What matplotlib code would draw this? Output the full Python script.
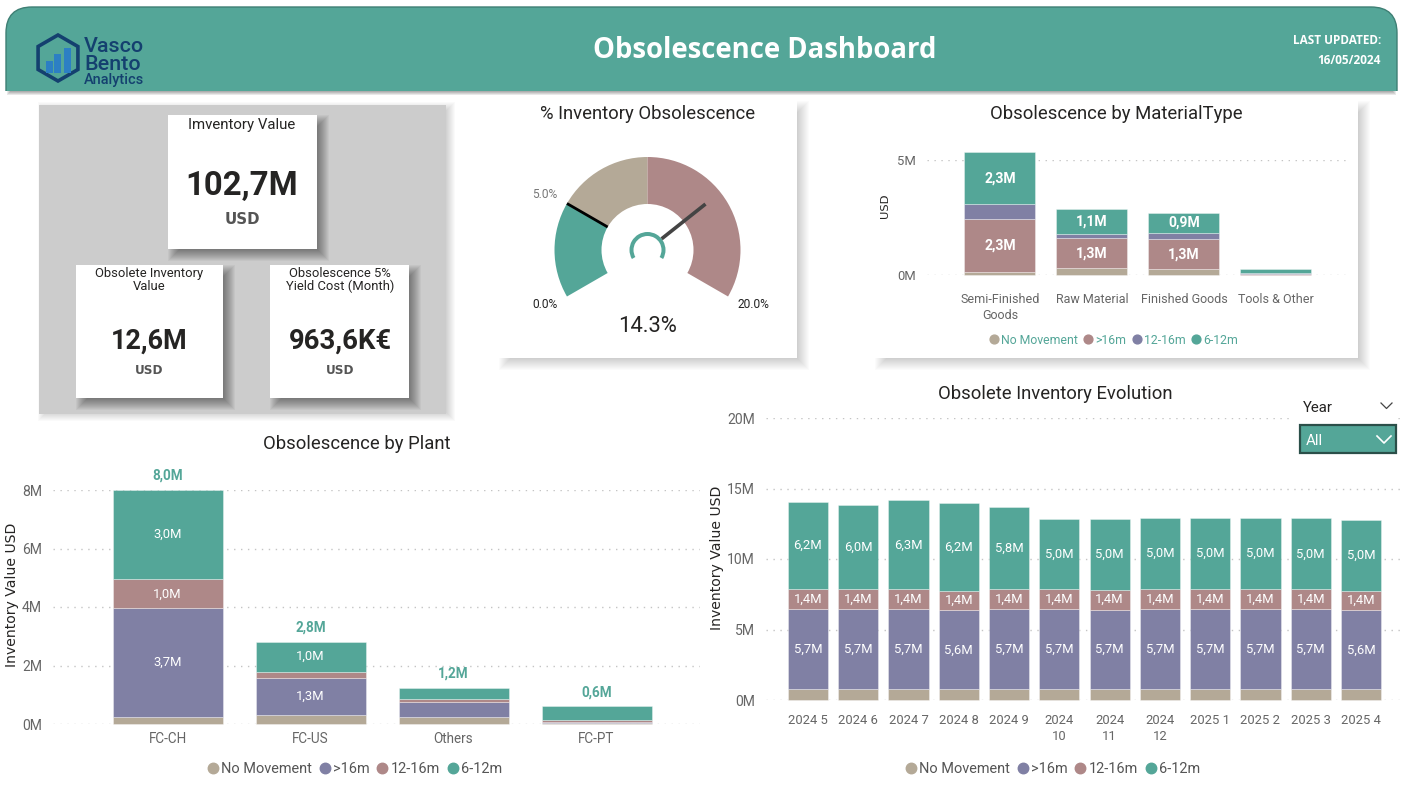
import matplotlib
matplotlib.use("Agg")
import matplotlib.pyplot as plt
from matplotlib.patches import Rectangle, FancyBboxPatch, RegularPolygon, Wedge
from matplotlib.lines import Line2D
import numpy as np

W, H = 1408, 786
NARROW = ['Roboto', 'DejaVu Sans']
plt.rcParams['font.family'] = ['Roboto', 'DejaVu Sans']

TEAL = '#54A698'
BROWN = '#AE8888'
PURPLE = '#8080A4'
TAN = '#B4A997'
TICK = '#666666'
DARK = '#252423'

# stacked bars by plant
plants = ['FC-CH', 'FC-US', 'Others', 'FC-PT']
plant_none = [0.25, 0.30, 0.25, 0.03]
plant_16 = [3.70, 1.28, 0.50, 0.05]
plant_12 = [1.00, 0.20, 0.10, 0.07]
plant_6 = [3.05, 1.04, 0.39, 0.45]

# stacked bars by material type
materials = ['Semi-Finished\nGoods', 'Raw Material', 'Finished Goods', 'Tools & Other']
mat_none = [0.12, 0.30, 0.26, 0.02]
mat_16 = [2.30, 1.30, 1.30, 0.02]
mat_12 = [0.65, 0.20, 0.27, 0.04]
mat_6 = [2.26, 1.06, 0.87, 0.20]

# monthly evolution
months = ['2024 5', '2024 6', '2024 7', '2024 8', '2024 9', '2024\n10', '2024\n11',
          '2024\n12', '2025 1', '2025 2', '2025 3', '2025 4']
evo_none = [0.75, 0.75, 0.75, 0.75, 0.75, 0.75, 0.75, 0.75, 0.75, 0.75, 0.75, 0.75]
evo_16 = [5.70, 5.70, 5.70, 5.60, 5.70, 5.70, 5.66, 5.70, 5.70, 5.70, 5.70, 5.60]
evo_12 = [1.40, 1.40, 1.40, 1.40, 1.42, 1.40, 1.40, 1.42, 1.44, 1.42, 1.40, 1.40]
evo_6 = [6.20, 6.00, 6.30, 6.20, 5.80, 5.00, 5.04, 5.04, 5.04, 5.04, 5.04, 5.00]

# gauge
gauge_min = 0.0
gauge_target = 5.0
gauge_mid = 10.0
gauge_max = 20.0
gauge_value = 14.3

fig = plt.figure(figsize=(W / 100, H / 100), dpi=100, facecolor='white')


def px_axes(x0, y0, x1, y1, zorder=1):
    ax = fig.add_axes([x0 / W, 1 - y1 / H, (x1 - x0) / W, (y1 - y0) / H], zorder=zorder)
    ax.patch.set_alpha(0)
    return ax


def fs(px):
    return px * 0.72


back = px_axes(0, 0, W, H, zorder=0)
back.set_xlim(0, W)
back.set_ylim(H, 0)
back.axis('off')

front = px_axes(0, 0, W, H, zorder=5)
front.set_xlim(0, W)
front.set_ylim(H, 0)
front.axis('off')


def shadow(x0, y0, x1, y1, dx, dy, blur, alpha):
    # soft edge from stacked translucent rectangles
    for k in range(blur, -blur, -1):
        back.add_patch(Rectangle((x0 + dx - k, y0 + dy - k), x1 - x0 + 2 * k, y1 - y0 + 2 * k,
                                 color='black', alpha=alpha, lw=0))


def card(x0, y0, x1, y1, color='white', dx=6, dy=6, blur=6, alpha=0.035):
    shadow(x0, y0, x1, y1, dx, dy, blur, alpha)
    back.add_patch(Rectangle((x0, y0), x1 - x0, y1 - y0, color=color, lw=0))


# header
shadow(10, 60, 1393, 90, 0, 2, 3, 0.09)
head = FancyBboxPatch((6, 7), 1391, 120, boxstyle='round,pad=0,rounding_size=26',
                      fc=TEAL, ec='#3E7F74', lw=1)
back.add_patch(head)
head.set_clip_path(Rectangle((0, 0), W, 90.5, transform=back.transData))
back.text(765, 50, 'Obsolescence Dashboard', color='white', fontsize=fs(27.5), fontweight='bold',
          family='Open Sans', ha='center', va='center')
back.text(1381, 41, 'LAST UPDATED:', color='white', fontsize=fs(11.8), fontweight='bold',
          family='Open Sans', ha='right', va='center')
back.text(1381, 60, '16/05/2024', color='white', fontsize=fs(11.8), fontweight='bold',
          family='Open Sans', ha='right', va='center')

# logo
back.add_patch(RegularPolygon((58, 58), 6, radius=23, fc='none', ec='#14406F', lw=2.6))
for bx, btop in zip([46, 54, 64], [61, 54, 48]):
    back.add_patch(Rectangle((bx, btop), 7, 73 - btop, color='#2C7FC4', lw=0))
for label, ly, size in [('Vasco', 46, 21.5), ('Bento', 64, 21.5), ('Analytics', 80, 14.5)]:
    back.text(84, ly, label, color='#14406F', fontsize=fs(size), fontweight='medium', va='center')

# kpi block
card(39, 105, 446, 414, color='#CCCCCC', dx=4, dy=2, blur=5, alpha=0.018)
card(168, 115, 317, 249, alpha=0.04)
card(76, 265, 223, 398, alpha=0.04)
card(270, 265, 409, 398, alpha=0.04)
back.text(242, 125, 'Imventory Value', fontsize=fs(15), color=DARK, ha='center', va='center', family=NARROW)
back.text(242, 186, '102,7M', fontsize=fs(33), color=DARK, ha='center', va='center', fontweight='bold', family=NARROW)
back.text(242, 220, 'USD', fontsize=fs(15), color='#555555', ha='center', va='center', fontweight='bold',
          family='DejaVu Sans')
back.text(149, 280, 'Obsolete Inventory\nValue', fontsize=fs(13), color=DARK, ha='center', va='center',
          family=NARROW, linespacing=1.0)
back.text(149, 341, '12,6M', fontsize=fs(27), color=DARK, ha='center', va='center', fontweight='bold', family=NARROW)
back.text(149, 371, 'USD', fontsize=fs(12), color='#555555', ha='center', va='center', fontweight='bold',
          family='DejaVu Sans')
back.text(340, 280, 'Obsolescence 5%\nYield Cost (Month)', fontsize=fs(13), color=DARK, ha='center', va='center',
          family=NARROW, linespacing=1.0)
back.text(340, 341, '963,6K€', fontsize=fs(27.5), color=DARK, ha='center', va='center', fontweight='bold', family=NARROW)
back.text(340, 371, 'USD', fontsize=fs(12), color='#555555', ha='center', va='center', fontweight='bold',
          family='DejaVu Sans')

# gauge and material cards
card(499, 101, 797, 358, alpha=0.014)
card(875, 101, 1358, 358, alpha=0.014)
back.text(648, 114, '% Inventory Obsolescence', fontsize=fs(18.5), color=DARK, ha='center', va='center')
back.text(1116, 114, 'Obsolescence by MaterialType', fontsize=fs(18.5), color=DARK, ha='center', va='center')
back.text(357, 444, 'Obsolescence by Plant', fontsize=fs(18.5), color=DARK, ha='center', va='center')
back.text(1055, 394, 'Obsolete Inventory Evolution', fontsize=fs(18.5), color=DARK, ha='center', va='center')


def stacked(ax, cats, series, colors, width, labelmin, labelsize, weight='normal'):
    bottom = np.zeros(len(cats))
    xs = np.arange(len(cats))
    for vals, col in zip(series, colors):
        vals = np.array(vals)
        ax.bar(xs, vals, width=width, bottom=bottom, color=col, edgecolor=(1, 1, 1, 0.35),
               linewidth=0.7, clip_on=False, zorder=3)
        for x, b, v in zip(xs, bottom, vals):
            if v >= labelmin:
                ax.text(x, b + v / 2, f'{v:.1f}M'.replace('.', ','), color='white', fontsize=fs(labelsize),
                        fontweight=weight, ha='center', va='center', family=NARROW, zorder=4)
        bottom += vals
    return bottom


def style(ax, yticks, ylabel, tick_px, label_px, pad_x=12, xtick_px=13):
    ax.set_yticks(yticks)
    ax.set_yticklabels([f'{t}M' for t in yticks], fontsize=fs(tick_px), color=TICK, family=NARROW)
    ax.tick_params(length=0, pad=8)
    ax.tick_params(axis='x', labelsize=fs(xtick_px), labelcolor=TICK, pad=pad_x)
    ax.grid(axis='y', color='#C4C4C4', linestyle=(0, (1, 4)), linewidth=1)
    ax.set_axisbelow(True)
    for s in ax.spines.values():
        s.set_visible(False)
    ax.set_ylabel(ylabel, fontsize=fs(label_px), color=DARK, family='DejaVu Sans')


def legend(ax, labels, colors, cx, cy, size, txt):
    handles = [Line2D([], [], marker='o', linestyle='none', color=c, markersize=size * 0.52) for c in colors]
    ax.legend(handles, labels, loc='center', bbox_to_anchor=(cx / W, 1 - cy / H), bbox_transform=fig.transFigure,
              ncols=len(labels), frameon=False, handlelength=0.7, handletextpad=0.25, columnspacing=0.5, borderpad=0,
              labelcolor=txt, prop={'size': fs(size), 'family': NARROW})


# gauge
gax = px_axes(499, 101, 797, 358, zorder=2)
cx, cy = 647.5 - 499, 358 - 250
gax.set_xlim(0, 298)
gax.set_ylim(0, 257)
gax.axis('off')


def angle(v):
    return 210 - (v - gauge_min) / (gauge_max - gauge_min) * 240


def gauge_wedge(r0, r1, v0, v1, col):
    gax.add_patch(Wedge((cx, cy), r1, angle(v1), angle(v0), width=r1 - r0, color=col, lw=0))


def radial(v, r0, r1, col, lw):
    a = np.radians(angle(v))
    gax.plot([cx + r0 * np.cos(a), cx + r1 * np.cos(a)], [cy + r0 * np.sin(a), cy + r1 * np.sin(a)],
             color=col, lw=lw, solid_capstyle='butt')


gauge_wedge(46, 93, gauge_min, gauge_target, TEAL)
gauge_wedge(46, 93, gauge_target, gauge_mid, TAN)
gauge_wedge(46, 93, gauge_mid, gauge_max, BROWN)
radial(gauge_target, 46, 93, 'black', 2)
radial(gauge_value, 18, 74, '#444444', 2.6)
gauge_wedge(14, 18, gauge_min, gauge_max, TEAL)
back.text(545, 304, f'{gauge_min:.1f}%', fontsize=fs(12), color='#222222', ha='center', va='center', family=NARROW)
back.text(545, 195, f'{gauge_target:.1f}%', fontsize=fs(12), color='#777777', ha='center', va='center', family=NARROW)
back.text(753, 304, f'{gauge_max:.1f}%', fontsize=fs(12), color='#222222', ha='center', va='center', family=NARROW)
back.text(648, 327, f'{gauge_value:.1f}%', fontsize=fs(22), color=DARK, ha='center', va='center', family=NARROW)

# material chart
mx = px_axes(927, 160, 1348, 275, zorder=2)
stacked(mx, materials, [mat_none, mat_16, mat_12, mat_6], [TAN, BROWN, PURPLE, TEAL], 71 / 92, 0.8, 14, 'bold')
mx.set_xlim((927 - 1000) / 92, (1348 - 1000) / 92)
mx.set_ylim(0, 5)
mx.set_xticks(range(len(materials)))
mx.set_xticklabels(materials, linespacing=1.25)
style(mx, [0, 5], 'USD', 13, 11.5, pad_x=13, xtick_px=12.5)
mx.yaxis.set_label_coords((890 - 927) / 421, 0.6)
legend(mx, ['No Movement', '>16m', '12-16m', '6-12m'], [TAN, BROWN, PURPLE, TEAL], 1114, 340, 12.2, TEAL)

# plant chart
px = px_axes(53, 490, 700, 724, zorder=2)
totals = stacked(px, plants, [plant_none, plant_16, plant_12, plant_6], [TAN, PURPLE, BROWN, TEAL], 110 / 143, 0.9, 13)
for i, t in enumerate(totals):
    px.text(i, t + 0.24, f'{t:.1f}M'.replace('.', ','), color=TEAL, fontsize=fs(13.5), fontweight='bold',
            ha='center', va='bottom', family=NARROW)
px.set_xlim((53 - 167.5) / 143, (700 - 167.5) / 143)
px.set_ylim(0, 8)
px.set_xticks(range(len(plants)))
px.set_xticklabels(plants)
style(px, [0, 2, 4, 6, 8], 'Inventory Value USD', 14, 14, pad_x=6, xtick_px=13.5)
px.yaxis.set_label_coords((19 - 53) / 647, (724 - 595) / 234)
legend(px, ['No Movement', '>16m', '12-16m', '6-12m'], [TAN, PURPLE, BROWN, TEAL], 355, 769, 14.5, '#555555')

# evolution chart
ex = px_axes(766, 418, 1400, 700, zorder=2)
stacked(ex, months, [evo_none, evo_16, evo_12, evo_6], [TAN, PURPLE, BROWN, TEAL], 0.8, 0.9, 13)
ex.set_xlim((766 - 808) / 50.27, (1400 - 808) / 50.27)
ex.set_ylim(0, 20)
ex.set_xticks(range(len(months)))
ex.set_xticklabels(months, linespacing=1.35)
style(ex, [0, 5, 10, 15, 20], 'Inventory Value USD', 14, 14, pad_x=10, xtick_px=13)
ex.yaxis.set_label_coords((724 - 766) / 634, (700 - 558) / 282)
legend(ex, ['No Movement', '>16m', '12-16m', '6-12m'], [TAN, PURPLE, BROWN, TEAL], 1053, 769, 14.5, '#555555')

# year slicer
front.add_patch(Rectangle((1293, 396), 105, 60, color='white', lw=0))
front.text(1303, 408, 'Year', fontsize=fs(15), color=DARK, va='center', family=NARROW)
front.plot([1381, 1386.5, 1392], [403, 408.5, 403], color='#444444', lw=0.9)
front.add_patch(Rectangle((1300, 425), 96, 28, fc=TEAL, ec='#2B4F49', lw=1.6))
front.text(1306, 441, 'All', fontsize=fs(15), color='white', va='center', family=NARROW)
front.plot([1377, 1384, 1391], [436, 443, 436], color='white', lw=1.2)

fig.savefig('out.png', dpi=100)
